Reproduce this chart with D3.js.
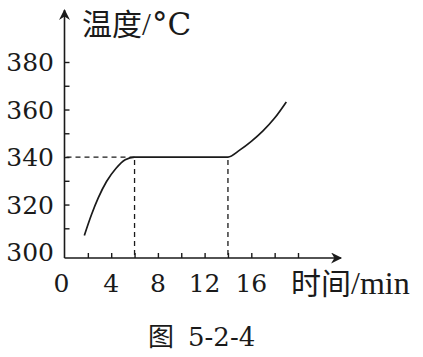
<!DOCTYPE html>
<html>
<head>
<meta charset="utf-8">
<script src="https://cdn.jsdelivr.net/npm/d3@7"></script>
<style>
    body { margin: 0; background: #fff; }
</style>
</head>
<body>
<div id="chart"></div>
<script>
'use strict';

// Data (time in min, temperature in degC).
var xTickValues  = [2, 4, 6, 8, 10, 12, 14, 16, 18, 20];
var xTickLabels  = [0, 4, 8, 12, 16];
var yTickValues  = [310, 320, 330, 340, 350, 360, 370, 380];
var yTickLabels  = [300, 320, 340, 360, 380];
var temperature  = [
    [1.7, 307], [2.3, 315.6], [2.9, 322.9], [3.6, 329.7], [4.4, 335.2], [5.2, 338.9], [6, 340],
    [14, 340],
    [15, 342.9], [16, 346.6], [17, 351], [18, 356.4], [19, 363.2]
];
var guideTimes   = [6, 14];
var guideTemp    = 340;

var width  = 423,
    height = 357,
    ink    = '#1a1a1a',
    cjk    = '"Noto Sans CJK SC", sans-serif',
    digits = '"DejaVu Serif", serif',
    latin  = '"Liberation Serif", "Times New Roman", serif';

var svg = d3.select('#chart').append('svg')
    .attr('width', width)
    .attr('height', height);

var x = d3.scaleLinear().domain([0, 20]).range([64.5, 298]);
var y = d3.scaleLinear().domain([297.5, 380]).range([258, 62]);

var x0 = x(0), yBase = y(297.5);

// Arrow marker.
svg.append('defs').append('marker')
    .attr('id', 'arrow')
    .attr('viewBox', '0 0 10 10')
    .attr('refX', 9).attr('refY', 5)
    .attr('markerWidth', 13).attr('markerHeight', 11)
    .attr('markerUnits', 'userSpaceOnUse')
    .attr('orient', 'auto')
    .append('path')
    .attr('d', 'M0,0 L10,5 L0,10 L3,5 Z')
    .attr('fill', ink);

// Axis lines.
svg.append('line')
    .attr('x1', x0).attr('y1', yBase)
    .attr('x2', x0).attr('y2', 10)
    .attr('stroke', ink).attr('stroke-width', 1.6)
    .attr('marker-end', 'url(#arrow)');

svg.append('line')
    .attr('x1', x0).attr('y1', yBase)
    .attr('x2', 341).attr('y2', yBase)
    .attr('stroke', ink).attr('stroke-width', 1.6)
    .attr('marker-end', 'url(#arrow)');

// Tick marks pointing into the plot.
svg.append('g')
    .attr('transform', 'translate(' + x0 + ',0)')
    .call(d3.axisLeft(y).tickValues(yTickValues).tickSize(-5).tickFormat(''))
    .call(function (g) {
        g.select('.domain').remove();
        g.selectAll('line').attr('stroke', ink).attr('stroke-width', 1.4);
    });

svg.append('g')
    .attr('transform', 'translate(0,' + yBase + ')')
    .call(d3.axisBottom(x).tickValues(xTickValues).tickSize(-5).tickFormat(''))
    .call(function (g) {
        g.select('.domain').remove();
        g.selectAll('line').attr('stroke', ink).attr('stroke-width', 1.4);
    });

// Tick labels.
svg.append('g').selectAll('text')
    .data(yTickLabels)
    .enter().append('text')
    .attr('x', 54)
    .attr('y', function (d) { return y(d); })
    .attr('dy', '0.36em')
    .attr('text-anchor', 'end')
    .attr('font-family', digits)
    .attr('font-size', 25)
    .attr('fill', ink)
    .text(function (d) { return d; });

svg.append('g').selectAll('text')
    .data(xTickLabels)
    .enter().append('text')
    .attr('x', function (d) { return d === 0 ? x(d) - 3 : x(d); })
    .attr('y', 292)
    .attr('text-anchor', 'middle')
    .attr('font-family', digits)
    .attr('font-size', 25)
    .attr('fill', ink)
    .text(function (d) { return d; });

// Dashed guides.
var guides = svg.append('g')
    .attr('stroke', ink)
    .attr('stroke-width', 1.3)
    .attr('stroke-dasharray', '5,4')
    .attr('fill', 'none');

guides.append('line')
    .attr('x1', x0 + 2).attr('y1', y(guideTemp))
    .attr('x2', x(guideTimes[0])).attr('y2', y(guideTemp));

guides.selectAll('.v')
    .data(guideTimes)
    .enter().append('line')
    .attr('x1', function (d) { return x(d); })
    .attr('x2', function (d) { return x(d); })
    .attr('y1', y(guideTemp) + 3)
    .attr('y2', yBase - 1);

// Temperature curve.
var line = d3.line()
    .x(function (d) { return x(d[0]); })
    .y(function (d) { return y(d[1]); })
    .curve(d3.curveMonotoneX);

svg.append('path')
    .datum(temperature)
    .attr('d', line)
    .attr('fill', 'none')
    .attr('stroke', ink)
    .attr('stroke-width', 1.7);

// Titles (mixed scripts, so built from tspans).
var yTitle = svg.append('text')
    .attr('x', 82).attr('y', 35)
    .attr('fill', ink);
yTitle.append('tspan').attr('font-family', cjk).attr('font-size', 30).text('温度');
yTitle.append('tspan').attr('font-family', latin).attr('font-size', 32).text('/');
yTitle.append('tspan').attr('font-family', digits).attr('font-size', 31).attr('dx', 1).text('°C');

var xTitle = svg.append('text')
    .attr('x', 291).attr('y', 294)
    .attr('fill', ink);
xTitle.append('tspan').attr('font-family', cjk).attr('font-size', 30).text('时间');
xTitle.append('tspan').attr('font-family', latin).attr('font-size', 32).text('/min');

var caption = svg.append('text')
    .attr('x', 148).attr('y', 346)
    .attr('fill', ink);
caption.append('tspan').attr('font-family', cjk).attr('font-size', 26).text('图');
caption.append('tspan').attr('font-family', digits).attr('font-size', 26).attr('dx', 14).text('5-2-4');
</script>
</body>
</html>
